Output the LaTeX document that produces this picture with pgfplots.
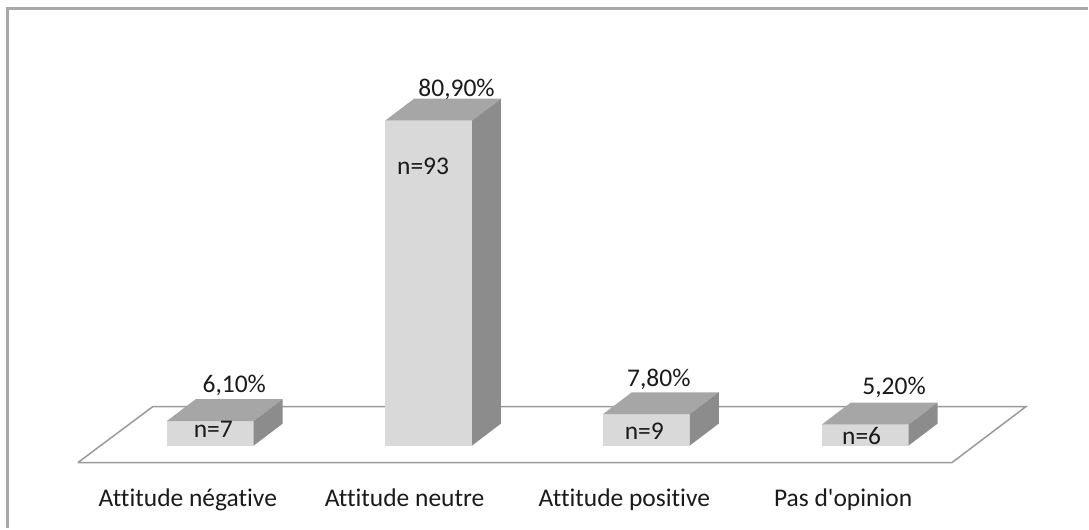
\documentclass[border=0pt]{standalone}
\usepackage{fontspec}
\setmainfont{Carlito}[Ligatures={TeXOff,CommonOff}]
\usepackage{pgfplots}
\pgfplotsset{compat=1.18}
\definecolor{frontc}{HTML}{D9D9D9}
\definecolor{topc}{HTML}{A6A6A6}
\definecolor{sidec}{HTML}{8C8C8C}
\definecolor{floorc}{HTML}{9A9A9A}
\definecolor{framec}{HTML}{A8A8A8}
\definecolor{txt}{HTML}{1A1A1A}
\tikzset{lbl/.style={font=\fontsize{25.5}{30}\selectfont, text=txt, anchor=base, inner sep=0pt}}
\begin{document}
\begin{tikzpicture}
\begin{axis}[
  scale only axis, width=1089pt, height=529pt,
  xmin=0, xmax=1089, ymin=-20.647, ymax=110.945,
  axis lines=none, clip=false,
]
% bounding box
\path (rel axis cs:0,0) rectangle (rel axis cs:1,1);
% frame (top and left)
\draw[framec, line width=2.2pt] (axis cs:7.5,-20.647) -- (axis cs:7.5,108.83) -- (axis cs:1089,108.83);
% floor
\addplot[fill=white, draw=floorc, line width=1.5pt] coordinates {(78,-4.23) (953,-4.23) (1027,9.70) (153,9.70) (78,-4.23)};
% fronts
\addplot[fill=frontc, draw=none] coordinates {(167,0) (254,0) (254,6.1) (167,6.1)};
\addplot[fill=frontc, draw=none] coordinates {(385.5,0) (472.5,0) (472.5,80.9) (385.5,80.9)};
\addplot[fill=frontc, draw=none] coordinates {(603.5,0) (690.5,0) (690.5,7.8) (603.5,7.8)};
\addplot[fill=frontc, draw=none] coordinates {(822.5,0) (909.5,0) (909.5,5.2) (822.5,5.2)};
% tops
\addplot[fill=topc, draw=none] coordinates {(167,6.1) (254,6.1) (283,11.57) (196,11.57)};
\addplot[fill=topc, draw=none] coordinates {(385.5,80.9) (472.5,80.9) (501.5,86.37) (414.5,86.37)};
\addplot[fill=topc, draw=none] coordinates {(603.5,7.8) (690.5,7.8) (719.5,13.27) (632.5,13.27)};
\addplot[fill=topc, draw=none] coordinates {(822.5,5.2) (909.5,5.2) (938.5,10.67) (851.5,10.67)};
% sides
\addplot[fill=sidec, draw=none] coordinates {(254,0) (283,5.47) (283,11.57) (254,6.1)};
\addplot[fill=sidec, draw=none] coordinates {(472.5,0) (501.5,5.47) (501.5,86.37) (472.5,80.9)};
\addplot[fill=sidec, draw=none] coordinates {(690.5,0) (719.5,5.47) (719.5,13.27) (690.5,7.8)};
\addplot[fill=sidec, draw=none] coordinates {(909.5,0) (938.5,5.47) (938.5,10.67) (909.5,5.2)};
% value labels
\node[lbl] at (axis cs:234.5,13.18) {6,10\%};
\node[lbl] at (axis cs:457,86.82) {80,90\%};
\node[lbl] at (axis cs:659.5,14.68) {7,80\%};
\node[lbl] at (axis cs:895,12.69) {5,20\%};
\node[lbl] at (axis cs:213.5,1.92) {n=7};
\node[lbl] at (axis cs:423.5,67.41) {n=93};
\node[lbl] at (axis cs:645,1.49) {n=9};
\node[lbl] at (axis cs:862.5,0.3) {n=6};
% categories
\node[lbl] at (axis cs:188,-15.17) {Attitude négative};
\node[lbl] at (axis cs:405,-15.17) {Attitude neutre};
\node[lbl] at (axis cs:625,-15.17) {Attitude positive};
\node[lbl] at (axis cs:844,-15.17) {Pas d'opinion};
\end{axis}
\end{tikzpicture}
\end{document}
